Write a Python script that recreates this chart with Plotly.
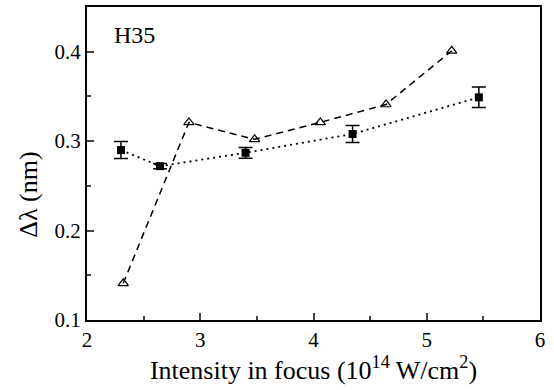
import plotly.graph_objects as go

tri_x = [2.32, 2.90, 3.48, 4.06, 4.64, 5.22]
tri_y = [0.141, 0.321, 0.302, 0.321, 0.341, 0.401]

sq_x = [2.30, 2.645, 3.40, 4.345, 5.46]
sq_y = [0.290, 0.272, 0.287, 0.308, 0.349]
sq_err = [0.0095, 0.003, 0.006, 0.0095, 0.0115]

x_ticks = [2, 3, 4, 5, 6]
y_ticks = [0.1, 0.2, 0.3, 0.4]

font = "'Liberation Serif', 'Times New Roman', Times, serif"

fig = go.Figure()
fig.add_trace(go.Scatter(
    x=tri_x, y=tri_y, mode="lines+markers",
    line=dict(color="black", width=1.5, dash="7px,5px"),
    marker=dict(symbol="triangle-up-open", size=9, color="black", line=dict(width=1.2)),
    showlegend=False,
))
fig.add_trace(go.Scatter(
    x=sq_x, y=sq_y, mode="lines+markers",
    line=dict(color="black", width=1.8, dash="2px,4px"),
    marker=dict(symbol="square", size=8, color="black"),
    error_y=dict(type="data", array=sq_err, visible=True, color="black", thickness=1.5, width=7),
    showlegend=False,
))

fig.add_annotation(x=0.055, y=0.96, xref="paper", yref="paper", text="H35",
                   showarrow=False, xanchor="left", yanchor="top",
                   font=dict(family=font, size=24, color="black"))

# y-axis title (placed slightly below the axis centre, as in the reference)
fig.add_annotation(x=-0.128, y=0.40, xref="paper", yref="paper", text="Δλ (nm)",
                   showarrow=False, textangle=-90, xanchor="center", yanchor="middle",
                   font=dict(family=font, size=26, color="black"))

fig.update_xaxes(
    range=[2, 6], tickvals=x_ticks, ticks="inside", ticklen=7, tickwidth=2,
    showline=True, linewidth=2, linecolor="black", mirror=True, showgrid=False,
    zeroline=False, tickfont=dict(family=font, size=21, color="black"),
    minor=dict(ticks="inside", ticklen=4, tickwidth=2, dtick=0.5, showgrid=False),
    title=dict(text="Intensity in focus (10<sup>14</sup> W/cm<sup>2</sup>)",
               font=dict(family=font, size=26, color="black"), standoff=3),
)
fig.update_yaxes(
    range=[0.1, 0.45], tickvals=y_ticks, ticktext=["0.1", "0.2", "0.3", "0.4"],
    ticks="inside", ticklen=7, tickwidth=2,
    showline=True, linewidth=2, linecolor="black", mirror=True, showgrid=False,
    zeroline=False, tickfont=dict(family=font, size=21, color="black"),
    minor=dict(ticks="inside", ticklen=4, tickwidth=2, dtick=0.05, showgrid=False),
)

fig.update_layout(
    width=554, height=390,
    margin=dict(l=87, r=14, t=5, b=70),
    plot_bgcolor="white", paper_bgcolor="white",
    font=dict(family=font),
)

fig.write_html("out.html")
